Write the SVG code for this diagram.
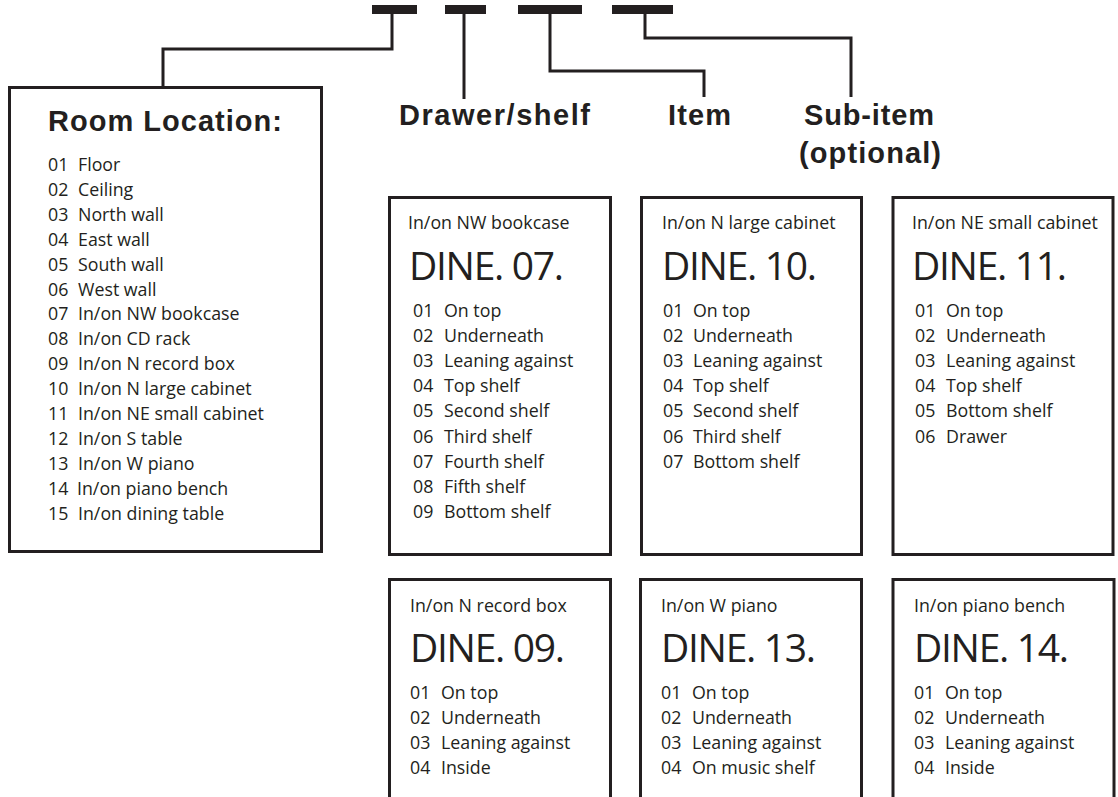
<svg xmlns="http://www.w3.org/2000/svg" width="1118" height="797" viewBox="0 0 1118 797">
<style>
.box{fill:#fff;stroke:#231f20;stroke-width:3}
.bar{fill:#231f20}
.wire{fill:none;stroke:#231f20;stroke-width:3}
.head{font-family:"Liberation Sans",Arial,sans-serif;font-weight:bold;font-size:29px;fill:#231f20}
.t{font-family:"Open Sans","Noto Sans",sans-serif;font-size:17.8px;fill:#231f20}
.big{font-family:"Open Sans","Noto Sans",sans-serif;font-size:39px;fill:#231f20;letter-spacing:-1.3px}
</style>
<rect width="1118" height="797" fill="#fff"/>
<g id="code-bars">
<rect class="bar" x="372" y="5" width="45" height="9"/>
<rect class="bar" x="445" y="5" width="41" height="9"/>
<rect class="bar" x="518" y="5" width="64" height="9"/>
<rect class="bar" x="612" y="5" width="61" height="9"/>
</g>
<g id="connectors">
<path class="wire" d="M392,13 V49 H163 V87"/>
<path class="wire" d="M464,13 V99"/>
<path class="wire" d="M550,13 V71 H704 V97"/>
<path class="wire" d="M645,13 V38 H851 V97"/>
</g>
<g id="labels">
<text class="head" x="399" y="125" textLength="191" lengthAdjust="spacing">Drawer/shelf</text>
<text class="head" x="668" y="125" textLength="63" lengthAdjust="spacing">Item</text>
<text class="head" x="804" y="125" textLength="130" lengthAdjust="spacing">Sub-item</text>
<text class="head" x="799" y="163" textLength="142" lengthAdjust="spacing">(optional)</text>
</g>
<g id="room-location">
<rect class="box" x="9.5" y="87.5" width="312" height="464"/>
<text class="head" x="48" y="131" textLength="234" lengthAdjust="spacing">Room Location:</text>
<g class="t">
<text x="48" y="171">01<tspan x="78">Floor</tspan></text>
<text x="48" y="195.9">02<tspan x="78">Ceiling</tspan></text>
<text x="48" y="220.8">03<tspan x="78">North wall</tspan></text>
<text x="48" y="245.7">04<tspan x="78">East wall</tspan></text>
<text x="48" y="270.6">05<tspan x="78">South wall</tspan></text>
<text x="48" y="295.5">06<tspan x="78">West wall</tspan></text>
<text x="48" y="320.4">07<tspan x="78">In/on NW bookcase</tspan></text>
<text x="48" y="345.3">08<tspan x="78">In/on CD rack</tspan></text>
<text x="48" y="370.2">09<tspan x="78">In/on N record box</tspan></text>
<text x="48" y="395.1">10<tspan x="78">In/on N large cabinet</tspan></text>
<text x="48" y="420">11<tspan x="78">In/on NE small cabinet</tspan></text>
<text x="48" y="444.9">12<tspan x="78">In/on S table</tspan></text>
<text x="48" y="469.8">13<tspan x="78">In/on W piano</tspan></text>
<text x="48" y="494.7">14<tspan x="77">In/on piano bench</tspan></text>
<text x="48" y="519.6">15<tspan x="78">In/on dining table</tspan></text>
</g>
</g>
<g id="dine-07">
<rect class="box" x="389.5" y="197.5" width="221" height="357"/>
<text class="t" x="408" y="229">In/on NW bookcase</text>
<text class="big" x="409" y="280">DINE. 07.</text>
<g class="t">
<text x="413" y="317">01<tspan x="444">On top</tspan></text>
<text x="413" y="342.1">02<tspan x="444">Underneath</tspan></text>
<text x="413" y="367.2">03<tspan x="444">Leaning against</tspan></text>
<text x="413" y="392.3">04<tspan x="444">Top shelf</tspan></text>
<text x="413" y="417.4">05<tspan x="444">Second shelf</tspan></text>
<text x="413" y="442.5">06<tspan x="444">Third shelf</tspan></text>
<text x="413" y="467.6">07<tspan x="444">Fourth shelf</tspan></text>
<text x="413" y="492.7">08<tspan x="444">Fifth shelf</tspan></text>
<text x="413" y="517.8">09<tspan x="444">Bottom shelf</tspan></text>
</g>
</g>
<g id="dine-10">
<rect class="box" x="641.5" y="197.5" width="220" height="357"/>
<text class="t" x="662" y="229">In/on N large cabinet</text>
<text class="big" x="662" y="280">DINE. 10.</text>
<g class="t">
<text x="663" y="317">01<tspan x="693">On top</tspan></text>
<text x="663" y="342.1">02<tspan x="693">Underneath</tspan></text>
<text x="663" y="367.2">03<tspan x="693">Leaning against</tspan></text>
<text x="663" y="392.3">04<tspan x="693">Top shelf</tspan></text>
<text x="663" y="417.4">05<tspan x="693">Second shelf</tspan></text>
<text x="663" y="442.5">06<tspan x="693">Third shelf</tspan></text>
<text x="663" y="467.6">07<tspan x="693">Bottom shelf</tspan></text>
</g>
</g>
<g id="dine-11">
<rect class="box" x="893" y="197.5" width="220" height="357"/>
<text class="t" x="912" y="229">In/on NE small cabinet</text>
<text class="big" x="912" y="280">DINE. 11.</text>
<g class="t">
<text x="915" y="317">01<tspan x="946">On top</tspan></text>
<text x="915" y="342.1">02<tspan x="946">Underneath</tspan></text>
<text x="915" y="367.2">03<tspan x="946">Leaning against</tspan></text>
<text x="915" y="392.3">04<tspan x="946">Top shelf</tspan></text>
<text x="915" y="417.4">05<tspan x="946">Bottom shelf</tspan></text>
<text x="915" y="442.5">06<tspan x="946">Drawer</tspan></text>
</g>
</g>
<g id="dine-09">
<rect class="box" x="389.5" y="579.5" width="221" height="240"/>
<text class="t" x="410" y="612">In/on N record box</text>
<text class="big" x="410" y="662">DINE. 09.</text>
<g class="t">
<text x="410" y="699">01<tspan x="441">On top</tspan></text>
<text x="410" y="724">02<tspan x="441">Underneath</tspan></text>
<text x="410" y="749">03<tspan x="441">Leaning against</tspan></text>
<text x="410" y="774">04<tspan x="441">Inside</tspan></text>
</g>
</g>
<g id="dine-13">
<rect class="box" x="640.5" y="579.5" width="221" height="240"/>
<text class="t" x="661" y="612">In/on W piano</text>
<text class="big" x="661" y="662">DINE. 13.</text>
<g class="t">
<text x="661" y="699">01<tspan x="692">On top</tspan></text>
<text x="661" y="724">02<tspan x="692">Underneath</tspan></text>
<text x="661" y="749">03<tspan x="692">Leaning against</tspan></text>
<text x="661" y="774">04<tspan x="692">On music shelf</tspan></text>
</g>
</g>
<g id="dine-14">
<rect class="box" x="893" y="579.5" width="221" height="240"/>
<text class="t" x="914" y="612">In/on piano bench</text>
<text class="big" x="914" y="662">DINE. 14.</text>
<g class="t">
<text x="914" y="699">01<tspan x="945">On top</tspan></text>
<text x="914" y="724">02<tspan x="945">Underneath</tspan></text>
<text x="914" y="749">03<tspan x="945">Leaning against</tspan></text>
<text x="914" y="774">04<tspan x="945">Inside</tspan></text>
</g>
</g>
</svg>
